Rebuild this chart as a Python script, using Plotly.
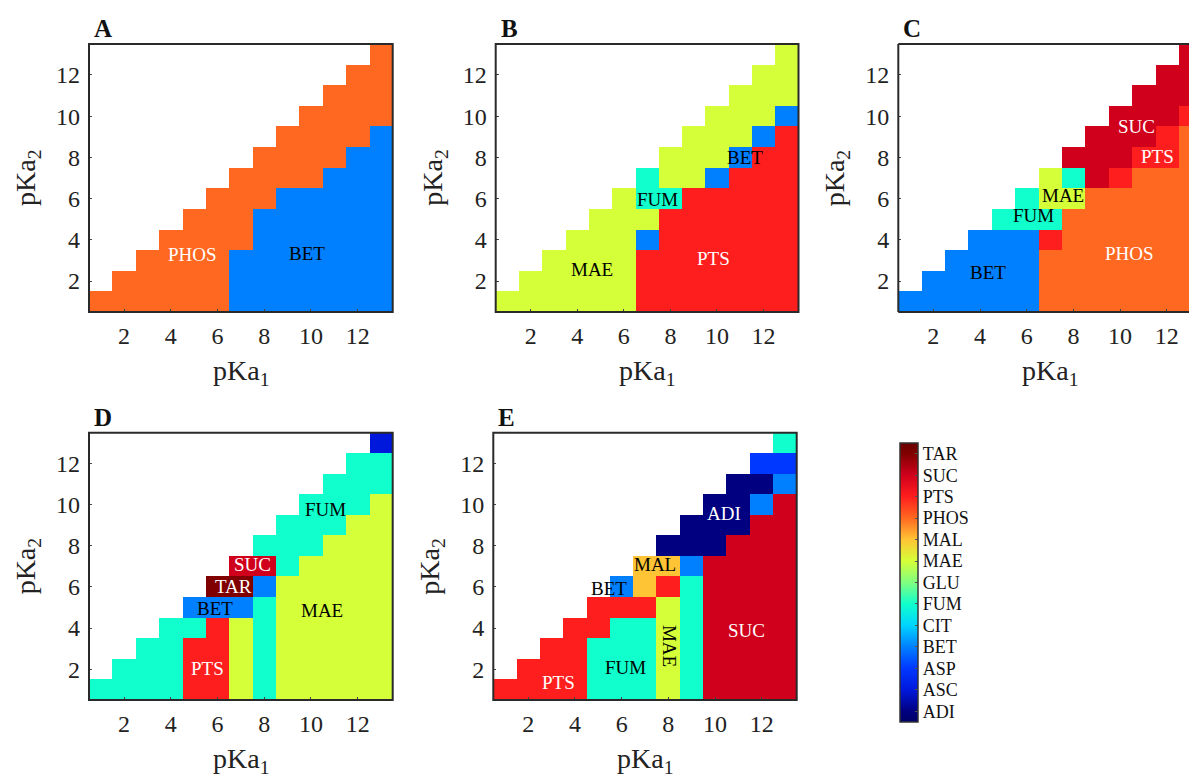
import plotly.graph_objects as go

# ---------------- data ----------------
categories = ["ADI", "ASC", "ASP", "BET", "CIT", "FUM", "GLU", "MAE", "MAL", "PHOS", "PTS", "SUC", "TAR"]
category_colors = ["#000080", "#0018dc", "#0038ff", "#0080ff", "#00d4ff", "#10ffcc", "#80ff80",
                   "#d5ff38", "#ffc435", "#ff6820", "#ff1e1e", "#d0001c", "#800000"]
codes = {"D": "ADI", "O": "ASC", "P": "ASP", "B": "BET", "C": "CIT", "F": "FUM", "G": "GLU",
         "M": "MAE", "L": "MAL", "H": "PHOS", "R": "PTS", "S": "SUC", "T": "TAR"}
pka1 = list(range(1, 14))
pka2 = list(range(1, 14))
tick_vals = [2, 4, 6, 8, 10, 12]

# rows listed from pKa2 = 13 (top) down to pKa2 = 1 (bottom); columns pKa1 = 1..13
grid_A = ["............H",
          "...........HH",
          "..........HHH",
          ".........HHHH",
          "........HHHHB",
          ".......HHHHBB",
          "......HHHHBBB",
          ".....HHHBBBBB",
          "....HHHBBBBBB",
          "...HHHHBBBBBB",
          "..HHHHBBBBBBB",
          ".HHHHHBBBBBBB",
          "HHHHHHBBBBBBB"]
grid_B = ["............M",
          "...........MM",
          "..........MMM",
          ".........MMMB",
          "........MMMBR",
          ".......MMMBRR",
          "......FMMBRRR",
          ".....MFFRRRRR",
          "....MMMRRRRRR",
          "...MMMBRRRRRR",
          "..MMMMRRRRRRR",
          ".MMMMMRRRRRRR",
          "MMMMMMRRRRRRR"]
grid_C = ["............S",
          "...........SS",
          "..........SSS",
          ".........SSSR",
          "........SSSRH",
          ".......SSSRRH",
          "......MFSRHHH",
          ".....FMMHHHHH",
          "....FFFHHHHHH",
          "...BBBRHHHHHH",
          "..BBBBHHHHHHH",
          ".BBBBBHHHHHHH",
          "BBBBBBHHHHHHH"]
grid_D = ["............O",
          "...........FF",
          "..........FFF",
          ".........FFFM",
          "........FFFMM",
          ".......FFFMMM",
          "......SSFMMMM",
          ".....TTBMMMMM",
          "....BBBFMMMMM",
          "...FFRMFMMMMM",
          "..FFRRMFMMMMM",
          ".FFFRRMFMMMMM",
          "FFFFRRMFMMMMM"]
grid_E = ["............F",
          "...........PP",
          "..........DDB",
          ".........DDBS",
          "........DDDSS",
          ".......DDDSSS",
          "......LLBSSSS",
          ".....BLRFSSSS",
          "....RRRMFSSSS",
          "...RRFFMFSSSS",
          "..RRFFFMFSSSS",
          ".RRRFFFMFSSSS",
          "RRRRFFFMFSSSS"]

# region labels: (text, pKa1, pKa2, text colour, angle)
labels_A = [("PHOS", 4.94, 3.27, "white", 0), ("BET", 9.82, 3.35, "black", 0)]
labels_B = [("MAE", 4.63, 2.56, "black", 0), ("PTS", 9.85, 3.1, "white", 0),
            ("FUM", 7.44, 5.96, "black", 0), ("BET", 11.22, 7.98, "black", 0)]
labels_C = [("SUC", 10.72, 9.51, "white", 0), ("PTS", 11.61, 8.02, "white", 0),
            ("MAE", 7.55, 6.13, "black", 0), ("FUM", 6.28, 5.16, "black", 0),
            ("BET", 4.36, 2.44, "black", 0), ("PHOS", 10.42, 3.36, "white", 0)]
labels_D = [("FUM", 10.63, 9.77, "black", 0), ("SUC", 7.49, 7.07, "white", 0),
            ("TAR", 6.68, 6.03, "white", 0), ("BET", 5.89, 4.96, "black", 0),
            ("MAE", 10.46, 4.84, "black", 0), ("PTS", 5.58, 2.01, "white", 0)]
labels_E = [("ADI", 10.4, 9.58, "white", 0), ("MAL", 7.43, 7.07, "black", 0),
            ("BET", 5.47, 5.93, "black", 0), ("MAE", 8.03, 3.13, "black", 90),
            ("FUM", 6.17, 2.09, "black", 0), ("PTS", 3.29, 1.36, "white", 0),
            ("SUC", 11.36, 3.87, "white", 0)]

# ---------------- layout helpers ----------------
W, H = 1189, 778
SERIF = "Liberation Serif, Times New Roman, serif"


def fx(px):
    return px / W


def fy(py):
    return 1 - py / H


def grid_to_z(grid):
    rows = list(reversed(grid))  # bottom row first -> pKa2 = 1
    z = []
    for row in rows:
        z.append([categories.index(codes[c]) if c != "." else None for c in row])
    return z


n = len(categories)
colorscale = [[0.0, "#000068"]]
for i, col in enumerate(category_colors):
    colorscale.append([(i + 0.5) / n, col])
colorscale.append([1.0, "#6a0000"])

unit_w = 23.35
panels = [
    ("A", grid_A, labels_A, (89, 392.7, 44, 312)),
    ("B", grid_B, labels_B, (495.7, 798.5, 44, 312)),
    ("C", grid_C, labels_C, (898.3, 1189, 44, 312)),
    ("D", grid_D, labels_D, (89, 392.7, 432.7, 700)),
    ("E", grid_E, labels_E, (493.3, 796.7, 432.7, 700)),
]

fig = go.Figure()
layout = dict(width=W, height=H, margin=dict(l=0, r=0, t=0, b=0),
              paper_bgcolor="white", plot_bgcolor="white", showlegend=False,
              font=dict(family=SERIF, color="#222"))
annotations = []
shapes = []

for k, (letter, grid, labels, box) in enumerate(panels):
    idx = "" if k == 0 else str(k + 1)
    xa, ya = "x" + idx, "y" + idx
    left, right, top, bottom = box
    xr_end = 13.5 if letter != "C" else 0.5 + (right - left) / unit_w
    fig.add_trace(go.Heatmap(
        x=pka1, y=pka2, z=grid_to_z(grid), xaxis=xa, yaxis=ya,
        colorscale=colorscale, zmin=-0.5, zmax=n - 0.5,
        showscale=(letter == "E"), hoverinfo="skip",
        colorbar=dict(
            x=fx(900), xanchor="left", y=fy(582.5), yanchor="middle",
            len=279, lenmode="pixels", thickness=18, thicknessmode="pixels",
            xpad=0, ypad=0,
            outlinecolor="#333", outlinewidth=1.5,
            tickvals=list(range(n)), ticktext=categories,
            ticks="inside", ticklen=3, tickcolor="#555",
            tickfont=dict(family=SERIF, size=18, color="#111"),
        ) if letter == "E" else None,
    ))
    layout["xaxis" + idx] = dict(domain=[fx(left), fx(right)], range=[0.5, xr_end], anchor=ya,
                                 showgrid=False, zeroline=False, tickvals=tick_vals,
                                 ticks="inside", ticklen=3, tickcolor="#444",
                                 tickfont=dict(family=SERIF, size=24, color="#222"),
                                 ticklabelstandoff=7, fixedrange=True)
    layout["yaxis" + idx] = dict(domain=[fy(bottom), fy(top)], range=[0.5, 13.5], anchor=xa,
                                 showgrid=False, zeroline=False, tickvals=tick_vals,
                                 ticks="inside", ticklen=3, tickcolor="#444",
                                 tickfont=dict(family=SERIF, size=24, color="#222"),
                                 ticklabelstandoff=8, fixedrange=True)
    lw, lc = 2, "#2a2a2a"
    xd, yd = xa + " domain", ya + " domain"
    if letter == "C":
        for (x0, y0, x1, y1) in [(0, 0, 0, 1), (0, 0, 1, 0), (0, 1, 1, 1)]:
            shapes.append(dict(type="line", xref=xd, yref=yd, x0=x0, y0=y0, x1=x1, y1=y1,
                               line=dict(color=lc, width=lw), layer="above"))
    else:
        shapes.append(dict(type="rect", xref=xd, yref=yd, x0=0, y0=0, x1=1, y1=1,
                           line=dict(color=lc, width=lw), layer="above"))
    for (txt, lx, ly, col, ang) in labels:
        annotations.append(dict(text=txt, x=lx, y=ly, xref=xa, yref=ya, showarrow=False,
                                textangle=ang, font=dict(family=SERIF, size=19, color=col)))
    annotations.append(dict(text="<b>%s</b>" % letter, x=fx(left + 3), y=fy(top - 15),
                            xref="paper", yref="paper", xanchor="left", yanchor="middle",
                            showarrow=False, font=dict(family=SERIF, size=25, color="#111")))
    annotations.append(dict(text="pKa<sub>1</sub>", x=fx((left + left + 13 * unit_w) / 2),
                            y=fy(bottom + 60), xref="paper", yref="paper",
                            xanchor="center", yanchor="middle", showarrow=False,
                            font=dict(family=SERIF, size=28, color="#222")))
    annotations.append(dict(text="pKa<sub>2</sub>", x=fx(left - 62), y=fy((top + bottom) / 2),
                            xref="paper", yref="paper", xanchor="center", yanchor="middle",
                            textangle=-90, showarrow=False,
                            font=dict(family=SERIF, size=28, color="#222")))

layout["annotations"] = annotations
layout["shapes"] = shapes
fig.update_layout(**layout)
fig.write_html("out.html", config={"displayModeBar": False},
               post_script="document.body.style.margin='0';document.body.style.overflow='hidden';")
